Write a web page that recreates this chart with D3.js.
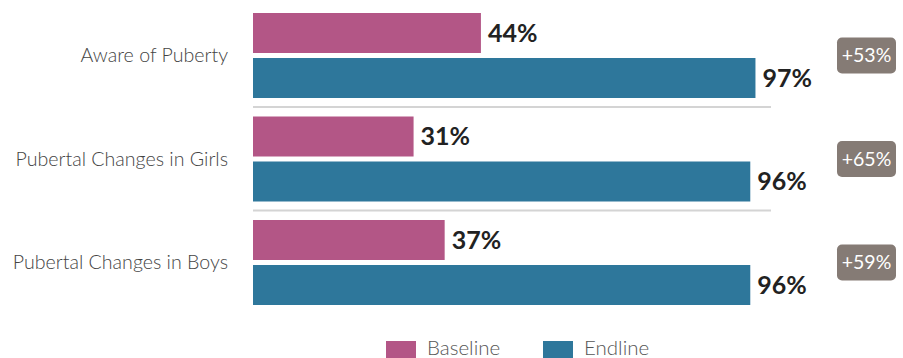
<!DOCTYPE html>
<html>
<head>
<meta charset="utf-8">
<script src="https://cdn.jsdelivr.net/npm/d3@7"></script>
<style>
  body { margin: 0; background: #fff; }
  svg { display: block; }
  .cat-label { font-family: "Lato", sans-serif; font-weight: 300; font-size: 19.6px; fill: #444; }
  .value-label { font-family: "Lato", sans-serif; font-weight: 700; font-size: 25px; fill: #222; }
  .badge-label { font-family: "Lato", sans-serif; font-size: 19.5px; fill: #fff; }
  .legend-label { font-family: "Lato", sans-serif; font-weight: 300; font-size: 20.5px; fill: #555; }
</style>
</head>
<body>
<div id="chart"></div>
<script>
// Data
var categories = ["Aware of Puberty", "Pubertal Changes in Girls", "Pubertal Changes in Boys"];
var series = ["Baseline", "Endline"];
var baseline = [44, 31, 37];
var endline = [97, 96, 96];
var changes = ["+53%", "+65%", "+59%"];

var colors = { "Baseline": "#b35686", "Endline": "#2e779b" };

var width = 903,
    height = 358;

var svg = d3.select("#chart").append("svg")
    .attr("width", width)
    .attr("height", height);

var rows = categories.map(function(c, i) {
  return { cat: c, Baseline: baseline[i], Endline: endline[i], change: changes[i] };
});

// Scales
var x = d3.scaleLinear()
    .domain([0, 100])
    .range([253, 771]);

var y0 = d3.scaleBand()
    .domain(categories)
    .range([13, 13 + 3 * 103.5]);

var y1 = d3.scaleBand()
    .domain(series)
    .range([0, 85])
    .paddingInner(1 / 9);

// Separators between groups
svg.selectAll(".sep")
    .data(categories.slice(0, -1))
    .enter().append("line")
    .attr("class", "sep")
    .attr("x1", x(0))
    .attr("x2", x(100))
    .attr("y1", function(d) { return y0(d) + 94; })
    .attr("y2", function(d) { return y0(d) + 94; })
    .attr("stroke", "#d4d4d4")
    .attr("stroke-width", 2);

var group = svg.selectAll(".group")
    .data(rows)
    .enter().append("g")
    .attr("class", "group")
    .attr("transform", function(d) { return "translate(0," + y0(d.cat) + ")"; });

// Category labels
group.append("text")
    .attr("class", "cat-label")
    .attr("x", 228)
    .attr("y", 42.5)
    .attr("dy", "0.35em")
    .attr("text-anchor", "end")
    .text(function(d) { return d.cat; });

// Bars
group.selectAll("rect.bar")
    .data(function(d) { return series.map(function(s) { return { key: s, value: d[s] }; }); })
    .enter().append("rect")
    .attr("class", "bar")
    .attr("x", x(0))
    .attr("y", function(d) { return y1(d.key); })
    .attr("width", function(d) { return x(d.value) - x(0); })
    .attr("height", y1.bandwidth())
    .attr("fill", function(d) { return colors[d.key]; });

group.selectAll("text.value-label")
    .data(function(d) { return series.map(function(s) { return { key: s, value: d[s] }; }); })
    .enter().append("text")
    .attr("class", "value-label")
    .attr("x", function(d) { return x(d.value) + 7; })
    .attr("y", function(d) { return y1(d.key) + y1.bandwidth() / 2; })
    .attr("dy", "0.35em")
    .text(function(d) { return d.value + "%"; });

// Change badges
group.append("rect")
    .attr("x", 837)
    .attr("y", 42.5 - 18)
    .attr("width", 59)
    .attr("height", 36)
    .attr("rx", 5)
    .attr("fill", "#857b75");

group.append("text")
    .attr("class", "badge-label")
    .attr("x", 837 + 29.5)
    .attr("y", 42.5)
    .attr("dy", "0.35em")
    .attr("text-anchor", "middle")
    .text(function(d) { return d.change; });

// Legend
var legendX = d3.scaleOrdinal().domain(series).range([386, 543]);

var legend = svg.selectAll(".legend")
    .data(series)
    .enter().append("g")
    .attr("class", "legend")
    .attr("transform", function(d) { return "translate(" + legendX(d) + ",341)"; });

legend.append("rect")
    .attr("width", 30)
    .attr("height", 17)
    .attr("fill", function(d) { return colors[d]; });

legend.append("text")
    .attr("class", "legend-label")
    .attr("x", 41)
    .attr("y", 7)
    .attr("dy", "0.35em")
    .text(function(d) { return d; });
</script>
</body>
</html>
